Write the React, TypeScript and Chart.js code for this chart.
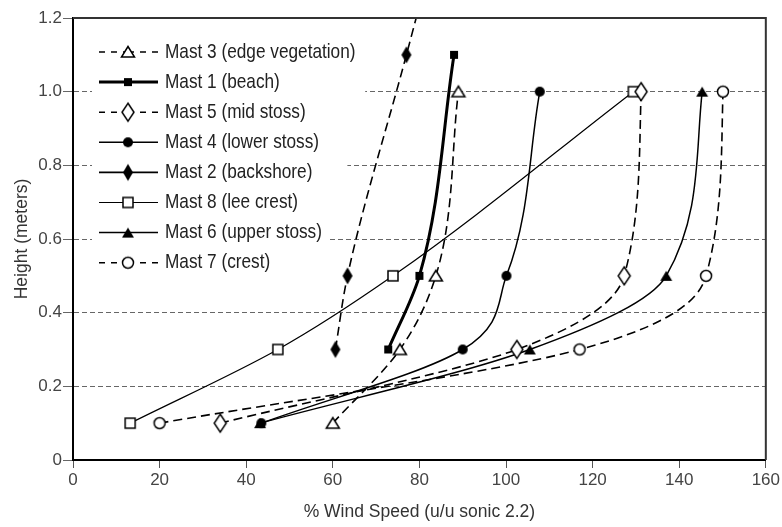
import React, { useEffect, useRef } from 'react';
import { Chart, registerables } from 'chart.js';

Chart.register(...registerables);

// ---- data ----
const seriesLabels = [
  'Mast 3 (edge vegetation)',
  'Mast 1 (beach)',
  'Mast 5 (mid stoss)',
  'Mast 4 (lower stoss)',
  'Mast 2 (backshore)',
  'Mast 8 (lee crest)',
  'Mast 6 (upper stoss)',
  'Mast 7 (crest)',
];

const mast3Height = [0.1, 0.3, 0.5, 1.0];
const mast3Speed = [60, 75.5, 83.8, 89];

const mast1Height = [0.3, 0.5, 1.1];
const mast1Speed = [72.8, 80, 88];

const mast5Height = [0.1, 0.3, 0.5, 1.0];
const mast5Speed = [34, 102.5, 127.3, 131.2];

const mast4Height = [0.1, 0.3, 0.5, 1.0];
const mast4Speed = [43.5, 90, 100.1, 107.8];

// last value continues the fitted curve past the top of the axis
const mast2Height = [0.3, 0.5, 1.1, 1.3];
const mast2Speed = [60.6, 63.4, 77, 81.5];

const mast8Height = [0.1, 0.3, 0.5, 1.0];
const mast8Speed = [13.2, 47.3, 73.9, 129.4];

const mast6Height = [0.1, 0.3, 0.5, 1.0];
const mast6Speed = [43.2, 105.5, 137, 145.3];

const mast7Height = [0.1, 0.3, 0.5, 1.0];
const mast7Speed = [20, 117, 146.2, 150.1];

const xTickLabels = ['0', '20', '40', '60', '80', '100', '120', '140', '160'];
const yTickLabels = ['0', '0.2', '0.4', '0.6', '0.8', '1.0', '1.2'];

const seriesHeights = [mast3Height, mast1Height, mast5Height, mast4Height, mast2Height, mast8Height, mast6Height, mast7Height];
const seriesSpeeds = [mast3Speed, mast1Speed, mast5Speed, mast4Speed, mast2Speed, mast8Speed, mast6Speed, mast7Speed];

// ---- styles ----
const markerKinds = ['triOpen', 'sqFill', 'diaOpen', 'cirFill', 'diaFill', 'sqOpen', 'triFill', 'cirOpen'];
const lineDashed = [true, false, true, false, true, false, false, true];
const legendDashed = [true, false, true, false, false, false, false, true];
const lineWidths = [1.6, 3, 1.6, 1.5, 1.6, 1.2, 1.5, 1.6];

const FONT = "'Liberation Sans', Arial, sans-serif";

function makeMarker(kind: string): HTMLCanvasElement {
  const c = document.createElement('canvas');
  c.width = 20;
  c.height = 22;
  const ctx = c.getContext('2d')!;
  ctx.lineWidth = 1.5;
  ctx.strokeStyle = '#000';
  ctx.fillStyle = '#000';
  ctx.lineJoin = 'miter';
  const poly = (pts: number[][], open: boolean) => {
    ctx.beginPath();
    pts.forEach((p, i) => (i ? ctx.lineTo(p[0], p[1]) : ctx.moveTo(p[0], p[1])));
    ctx.closePath();
    if (open) {
      ctx.fillStyle = '#fff';
      ctx.fill();
      ctx.stroke();
    } else {
      ctx.fill();
    }
  };
  switch (kind) {
    case 'triOpen':
      poly([[10, 5.5], [16.5, 16], [3.5, 16]], true);
      break;
    case 'triFill':
      poly([[10, 6], [16, 16], [4, 16]], false);
      break;
    case 'sqFill':
      ctx.fillRect(6, 7, 8, 8);
      break;
    case 'sqOpen':
      ctx.fillStyle = '#fff';
      ctx.fillRect(5, 6, 10, 10);
      ctx.strokeRect(5, 6, 10, 10);
      break;
    case 'diaOpen':
      poly([[10, 2], [16, 11], [10, 20], [4, 11]], true);
      break;
    case 'diaFill':
      poly([[10, 2.5], [15, 11], [10, 19.5], [5, 11]], false);
      break;
    case 'cirFill':
      ctx.beginPath();
      ctx.arc(10, 11, 5, 0, Math.PI * 2);
      ctx.fill();
      break;
    case 'cirOpen':
      ctx.beginPath();
      ctx.arc(10, 11, 5.5, 0, Math.PI * 2);
      ctx.fillStyle = '#fff';
      ctx.fill();
      ctx.stroke();
      break;
  }
  return c;
}

export default function App() {
  const ref = useRef<HTMLCanvasElement>(null);

  useEffect(() => {
    document.body.style.margin = '0';
    const markers = markerKinds.map(makeMarker);

    const datasets = seriesLabels.map((label, i) => ({
      label,
      data: seriesSpeeds[i].map((x, j) => ({ x, y: seriesHeights[i][j] })),
      borderColor: '#000',
      backgroundColor: '#000',
      borderWidth: lineWidths[i],
      borderDash: lineDashed[i] ? [9, 5] : [],
      pointStyle: markers[i],
      pointRadius: 6,
      cubicInterpolationMode: 'monotone' as const,
      indexAxis: 'y' as const,
      fill: false,
    }));

    const legendPlugin = {
      id: 'mastLegend',
      beforeDatasetsDraw(chart: any) {
        const ctx = chart.ctx as CanvasRenderingContext2D;
        const L = chart.chartArea.left;
        const T = chart.chartArea.top;
        ctx.save();
        ctx.fillStyle = '#fff';
        ctx.beginPath();
        ctx.moveTo(L + 19, T + 12);
        ctx.lineTo(L + 307, T + 12);
        ctx.lineTo(L + 248, T + 257);
        ctx.lineTo(L + 19, T + 257);
        ctx.closePath();
        ctx.fill();

        ctx.font = `21px ${FONT}`;
        ctx.textBaseline = 'middle';
        ctx.textAlign = 'left';
        seriesLabels.forEach((label, i) => {
          const y = T + 34 + i * 30.1;
          const x0 = L + 26;
          const xm = L + 55;
          const x1 = L + 85;
          ctx.strokeStyle = '#000';
          ctx.lineWidth = lineWidths[i];
          ctx.setLineDash(legendDashed[i] ? [6, 6] : []);
          ctx.beginPath();
          ctx.moveTo(x0, y);
          ctx.lineTo(xm, y);
          ctx.moveTo(x1, y);
          ctx.lineTo(xm, y);
          ctx.stroke();
          ctx.setLineDash([]);
          const m = markers[i];
          ctx.drawImage(m, xm - m.width / 2, y - m.height / 2);
          ctx.fillStyle = '#222';
          ctx.save();
          ctx.translate(L + 92, y);
          ctx.scale(0.82, 1);
          ctx.fillText(label, 0, 0);
          ctx.restore();
        });
        ctx.restore();
      },
      afterDatasetsDraw(chart: any) {
        const ctx = chart.ctx as CanvasRenderingContext2D;
        const { left, right, top, bottom } = chart.chartArea;
        ctx.save();
        ctx.strokeStyle = '#333';
        ctx.lineWidth = 2;
        ctx.beginPath();
        ctx.moveTo(left, top);
        ctx.lineTo(right, top);
        ctx.lineTo(right, bottom);
        ctx.stroke();
        ctx.restore();
      },
    };

    const chart = new Chart(ref.current!, {
      type: 'line',
      data: { datasets },
      options: {
        animation: false,
        responsive: false,
        indexAxis: 'y',
        layout: { padding: { top: 18, right: 16, left: 0, bottom: 0 } },
        plugins: { legend: { display: false }, tooltip: { enabled: false } },
        scales: {
          x: {
            type: 'linear',
            position: 'bottom',
            min: 0,
            max: 160,
            afterFit: (s: any) => {
              s.height = 67;
            },
            ticks: {
              stepSize: 20,
              padding: 2,
              color: '#444',
              font: { family: FONT, size: 17 },
              callback: (_v: any, i: number) => xTickLabels[i],
            },
            grid: {
              drawOnChartArea: false,
              drawTicks: true,
              tickLength: 8,
              tickColor: '#555',
              tickWidth: 1,
            },
            border: { display: true, color: '#000', width: 2 },
            title: {
              display: true,
              text: '% Wind Speed (u/u sonic 2.2)',
              color: '#333',
              font: { family: FONT, size: 17.5 },
              padding: { top: 0, bottom: 4 },
            },
          },
          y: {
            type: 'linear',
            position: 'left',
            min: 0,
            max: 1.2,
            afterFit: (s: any) => {
              s.width = 73;
            },
            ticks: {
              stepSize: 0.2,
              padding: 1,
              color: '#444',
              font: { family: FONT, size: 17 },
              callback: (_v: any, i: number) => yTickLabels[i],
            },
            grid: {
              color: (c: any) => (c.tick && (c.tick.value <= 0.001 || c.tick.value >= 1.199) ? 'rgba(0,0,0,0)' : '#666'),
              lineWidth: 1,
              drawTicks: true,
              tickLength: 10,
              tickColor: '#666',
              tickWidth: 1,
              tickBorderDash: [],
            },
            border: { display: true, color: '#000', width: 2, dash: [5, 3] },
            title: {
              display: true,
              text: 'Height (meters)',
              color: '#333',
              font: { family: FONT, size: 17.5 },
              padding: { top: 12, bottom: 0 },
            },
          },
        },
      } as any,
      plugins: [legendPlugin],
    });

    return () => chart.destroy();
  }, []);

  return <canvas ref={ref} width={782} height={527} style={{ display: 'block' }} />;
}
